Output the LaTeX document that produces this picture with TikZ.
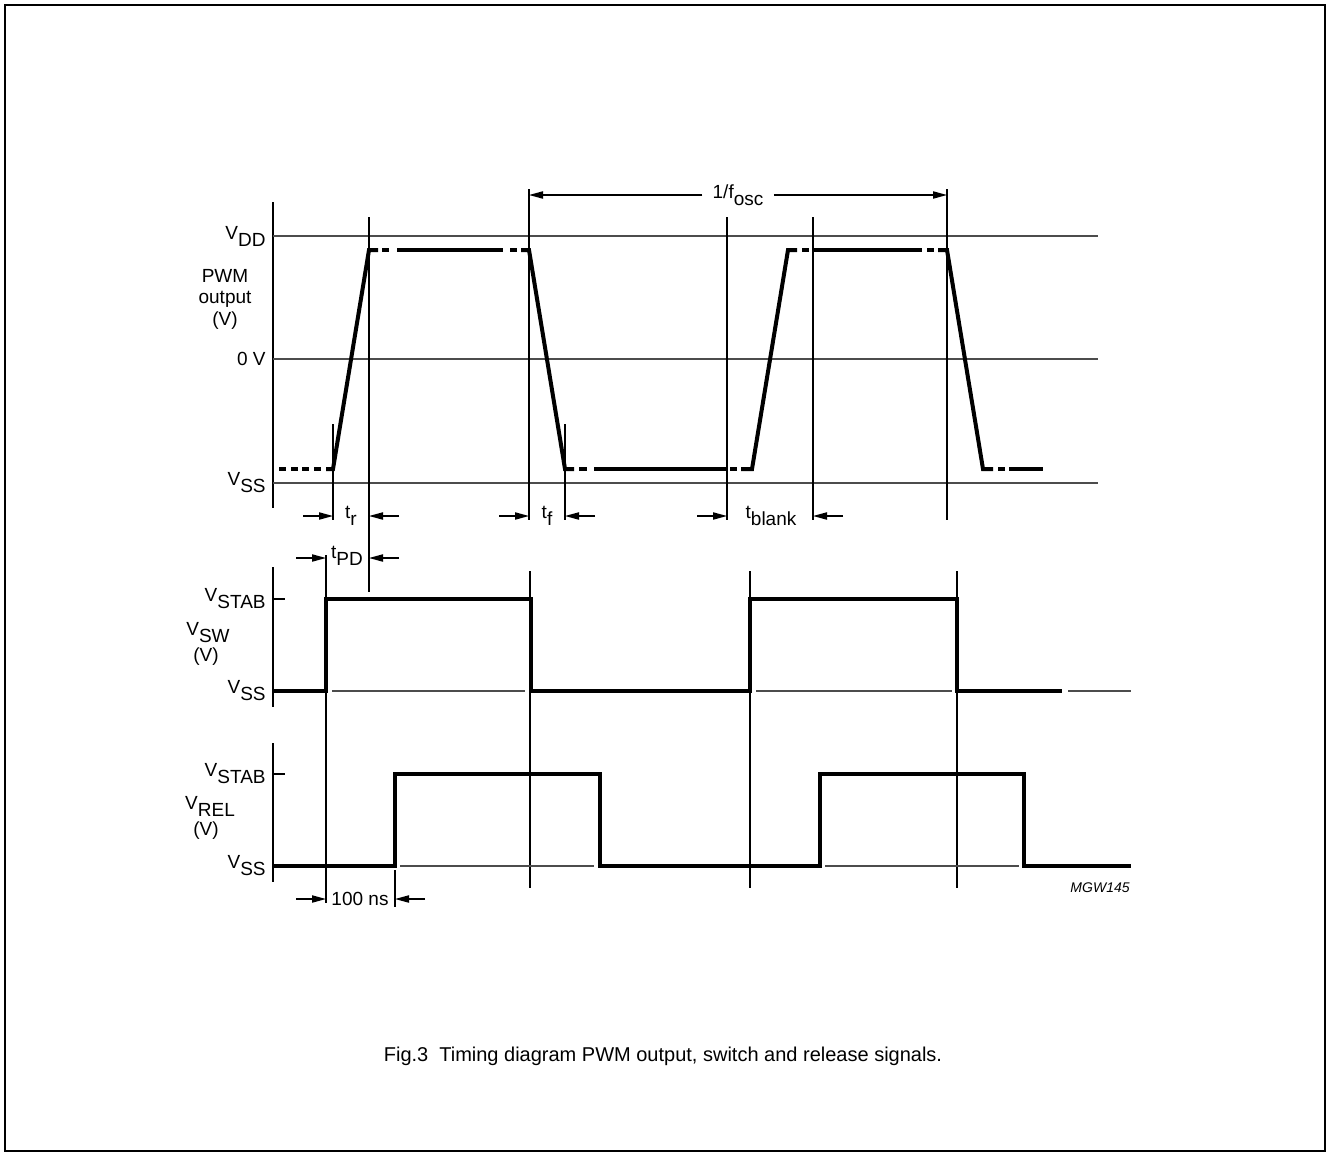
\documentclass[tikz,border=0pt]{standalone}
\usepackage{fontspec}
\setmainfont{Liberation Sans}
\usetikzlibrary{arrows.meta,positioning,calc}
\newcommand{\lo}[1]{\raisebox{-0.7ex}{#1}}

\begin{document}
\begin{tikzpicture}[x=0.5pt,y=-0.5pt,
  guide/.style={line width=0.7pt},
  refline/.style={line width=0.9pt,black!70},
  wave/.style={line width=2pt},
  dim/.style={line width=0.7pt,-{Triangle[length=7pt,width=3.6pt]}},
  lbl/.style={inner sep=0pt,font=\fontsize{9.5}{10.75}\selectfont}]
 \useasboundingbox (0,0) rectangle (1327,1156);
 \draw[line width=1.2pt] (5,5) rectangle (1325,1151);
 % axes, levels and guide lines
 \foreach \a/\b in {202/508,567/707,743/882}
   \draw[guide] (273,\a)--(273,\b);
 \foreach \y in {236,359,483}
   \draw[refline] (273,\y)--(1098,\y);
 \foreach \y in {599,774}
   \draw[guide] (273,\y)--(285,\y);
 \foreach \x/\a/\b in {333/424/520,369/217/592,529/189/520,565/424/520,
   727/217/520,813/217/520,947/189/520,326/555/903,530/571/888,
   750/571/888,957/571/888,395/870/907}
   \draw[guide] (\x,\a)--(\x,\b);
 \foreach \a/\b/\y in {332/525/691,756/952/691,1068/1131/691,400/594/866,825/1019/866}
   \draw[refline] (\a,\y)--(\b,\y);
 % PWM output
 \foreach \a/\b/\y in {279/286/469,291/298/469,302/309/469,314/321/469,
   382/389/250,510/517/250,579/587/469,730/737/469,802/809/250,
   927/934/250,998/1005/469}
   \draw[wave] (\a,\y)--(\b,\y);
 \draw[wave] (326,469)--(333,469)--(369,250)--(378,250);
 \draw[wave] (397,250)--(503,250);
 \draw[wave] (521,250)--(529,250)--(565,469)--(574,469);
 \draw[wave] (594,469)--(726,469);
 \draw[wave] (741,469)--(752,469)--(788,250)--(797,250);
 \draw[wave] (813,250)--(922,250);
 \draw[wave] (938,250)--(947,250)--(983,469)--(993,469);
 \draw[wave] (1009,469)--(1043,469);
 % switch and release
 \draw[wave] (273,691)--(326,691)--(326,599)--(531,599)--(531,691)--(750,691)
   --(750,599)--(957,599)--(957,691)--(1062,691);
 \draw[wave] (273,866)--(395,866)--(395,774)--(600,774)--(600,866)--(820,866)
   --(820,774)--(1024,774)--(1024,866)--(1131,866);
 % timing marks
 \foreach \nm/\x/\y in {r1/333/516,r2/369/516,f1/529/516,f2/565/516,
   b1/727/516,b2/813/516,p1/326/558,p2/369/558,n1/326/899,n2/395/899}
   \coordinate (\nm) at (\x,\y);
 \foreach \nm in {r,f,b,p,n} {
   \draw[dim] ($(\nm1)+(-30,0)$)--(\nm1);
   \draw[dim] ($(\nm2)+(30,0)$)--(\nm2);
 }
 \node[lbl] (tr) at (351,516) {t\lo{r}};
 \node[lbl] (tf) at (547,516) {t\lo{f}};
 \node[lbl] (tb) at (771,516) {t\lo{blank}};
 \node[lbl] (tpd) at (347,556) {t\lo{PD}};
 \node[lbl] (ns) at (360,899) {100 ns};
 \coordinate (osc1) at (529,195);
 \coordinate (osc2) at (947,195);
 \node[lbl,inner xsep=5pt] (osc) at (738,195) {1/f\lo{osc}};
 \draw[dim] (osc)--(osc1);
 \draw[dim] (osc)--(osc2);
 % level labels
 \node[lbl,anchor=east] (vdd) at (266,236) {V\lo{DD}};
 \node[lbl,anchor=east] (zero) at (266,359) {0 V};
 \node[lbl,anchor=east] (vss1) at (266,483) {V\lo{SS}};
 \node[lbl,anchor=east] (stab1) at (266,599) {V\lo{STAB}};
 \node[lbl,anchor=east] (vss2) at (266,691) {V\lo{SS}};
 \node[lbl,anchor=east] (stab2) at (266,774) {V\lo{STAB}};
 \node[lbl,anchor=east] (vss3) at (266,866) {V\lo{SS}};
 \node[lbl,align=center] (pwm) at (225,299) {PWM\\output\\(V)};
 \node[lbl] (vsw) at (208,633) {V\lo{SW}};
 \node[lbl] (vswu) at (206,657) {(V)};
 \node[lbl] (vrel) at (210,806) {V\lo{REL}};
 \node[lbl] (vrelu) at (206,831) {(V)};
 \node[lbl,anchor=east,font=\fontsize{7}{8}\selectfont\itshape] (code) at (1130,888) {MGW145};
 \node[lbl,font=\fontsize{10}{12}\selectfont] (cap) at (663,1056)
   {Fig.3\hspace{0.55em}Timing diagram PWM output, switch and release signals.};
\end{tikzpicture}
\end{document}
